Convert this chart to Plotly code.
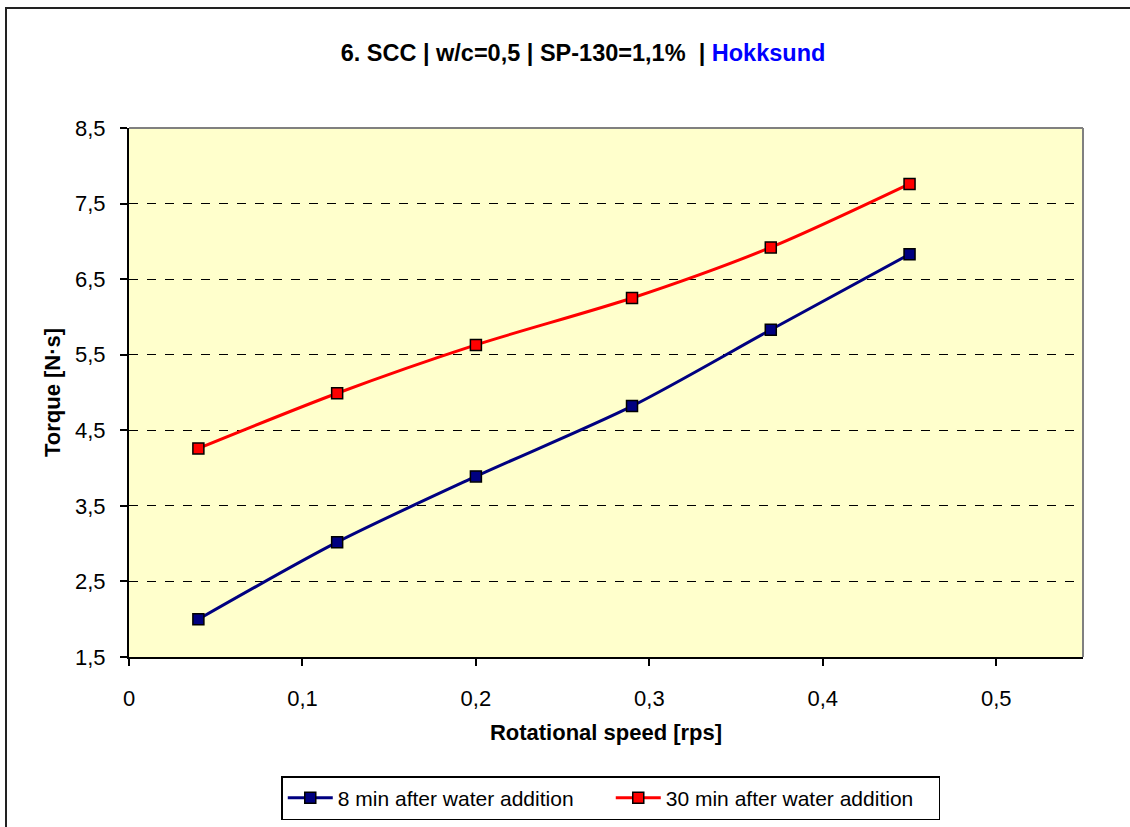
import plotly.graph_objects as go

# Rotational speed [rps] and measured torque [N·s]
speed = [0.04, 0.12, 0.20, 0.29, 0.37, 0.45]
torque_8min = [2.00, 3.02, 3.89, 4.82, 5.83, 6.83]
torque_30min = [4.26, 4.99, 5.63, 6.25, 6.92, 7.76]

series_names = ["8 min after water addition", "30 min after water addition"]
series_colors = ["#000080", "#FF0000"]

W, H = 1130, 827
L, R, T, B = 129, 47, 128, 170
pw, ph = W - L - R, H - T - B


def px_to_paper_x(px):
    return (px - L) / pw


def px_to_paper_y(py):
    return (H - B - py) / ph


FONT = "Liberation Sans, Arial, sans-serif"

fig = go.Figure()
for ys, name, color in zip([torque_8min, torque_30min], series_names, series_colors):
    fig.add_trace(go.Scatter(
        x=speed, y=ys, name=name, mode="lines+markers",
        line=dict(color=color, width=3, shape="spline", smoothing=0.8),
        marker=dict(symbol="square", size=11, color=color,
                    line=dict(color="black", width=1.5)),
    ))

fig.update_layout(
    width=W, height=H,
    margin=dict(l=L, r=R, t=T, b=B, autoexpand=False),
    paper_bgcolor="white",
    plot_bgcolor="#FFFFCC",
    separators=", ",
    font=dict(family=FONT, size=22, color="black"),
    title=dict(
        text="<b>6. SCC | w/c=0,5 | SP-130=1,1%  | <span style='color:#0000FF'>Hokksund</span></b>",
        x=583 / W, xanchor="center", y=1 - 53 / H, yanchor="middle",
        font=dict(family=FONT, size=23.5, color="black"),
    ),
    showlegend=True,
    legend=dict(
        orientation="h", x=0.505, xanchor="center",
        y=px_to_paper_y(776), yanchor="top",
        bordercolor="black", borderwidth=1.5, bgcolor="white",
        font=dict(family=FONT, size=21, color="black"),
        itemwidth=45,
        entrywidth=268,
    ),
)

fig.update_xaxes(
    range=[0, 0.55], tick0=0, dtick=0.1,
    showline=True, linecolor="black", linewidth=2,
    ticks="outside", ticklen=7, tickcolor="black", tickwidth=1.5,
    showgrid=False, zeroline=False,
    ticklabelstandoff=14,
    title=dict(text="<b>Rotational speed [rps]</b>", standoff=14,
               font=dict(family=FONT, size=22)),
)
fig.update_yaxes(
    range=[1.5, 8.5], tick0=1.5, dtick=1,
    showline=True, linecolor="black", linewidth=2,
    ticks="outside", ticklen=7, tickcolor="black", tickwidth=1.5,
    showgrid=True, gridcolor="black", gridwidth=1, griddash="dash",
    zeroline=False,
    ticklabelstandoff=10,
    title=dict(text="<b>Torque [N·s]</b>", standoff=8,
               font=dict(family=FONT, size=22)),
)

# grey frame on the top and right of the plot area
fig.add_shape(type="line", xref="paper", yref="paper", x0=0, x1=1, y0=1, y1=1,
              line=dict(color="#808080", width=2))
fig.add_shape(type="line", xref="paper", yref="paper", x0=1, x1=1, y0=0, y1=1,
              line=dict(color="#808080", width=2))

# outer chart border
fig.add_shape(type="rect", xref="paper", yref="paper",
              x0=px_to_paper_x(6), x1=px_to_paper_x(1200),
              y0=px_to_paper_y(900), y1=px_to_paper_y(8),
              line=dict(color="#222222", width=2), fillcolor="rgba(0,0,0,0)",
              layer="below")

fig.write_html("out.html")
